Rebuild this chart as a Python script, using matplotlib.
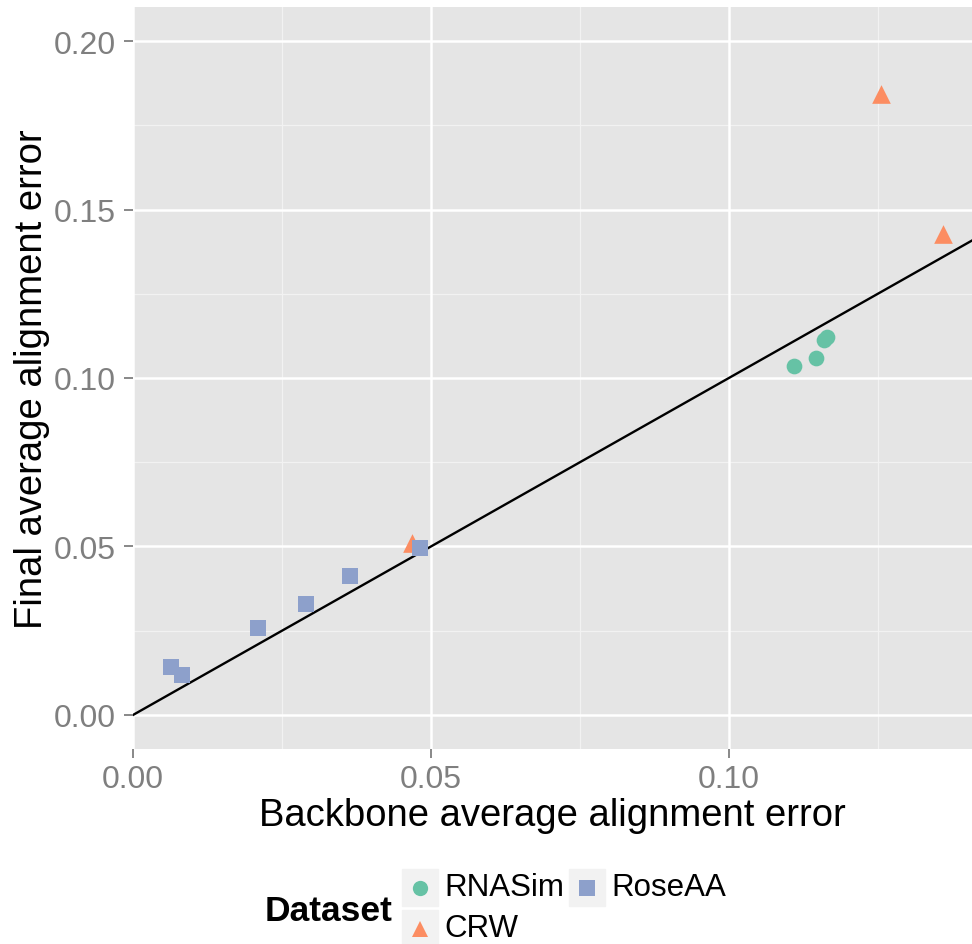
import matplotlib
matplotlib.use('Agg')
import matplotlib.pyplot as plt
from matplotlib.patches import Rectangle

plt.rcParams['font.family'] = ['Liberation Sans', 'DejaVu Sans']

# data
rnasim_x = [0.1110, 0.1146, 0.1160, 0.1164]
rnasim_y = [0.1035, 0.1058, 0.1114, 0.1122]
crw_x = [0.0468, 0.1255, 0.1360]
crw_y = [0.0511, 0.1843, 0.1427]
roseaa_x = [0.0063, 0.0083, 0.0209, 0.0290, 0.0364, 0.0482]
roseaa_y = [0.0143, 0.0120, 0.0258, 0.0329, 0.0412, 0.0496]

x_ticks = [0.00, 0.05, 0.10]
y_ticks = [0.00, 0.05, 0.10, 0.15, 0.20]

series = [
    ('RNASim', rnasim_x, rnasim_y, '#66C2A5', 'o', 128),
    ('CRW', crw_x, crw_y, '#FC8D62', '^', 180),
    ('RoseAA', roseaa_x, roseaa_y, '#8DA0CB', 's', 130),
]

W, H = 972, 945
fig = plt.figure(figsize=(W / 100, H / 100), dpi=100)
ax = fig.add_axes([133 / W, 1 - 750 / H, (W - 133) / W, (750 - 8) / H])
ax.set_facecolor('#E5E5E5')
for s in ax.spines.values():
    s.set_visible(False)

ax.set_xlim(0, 0.1408)
ax.set_ylim(-0.0101, 0.2101)

# grid: minor then major
for v in [0.025, 0.075, 0.125]:
    ax.axvline(v, color='#F2F2F2', lw=0.9, zorder=0.5)
for v in [0.025, 0.075, 0.125, 0.175]:
    ax.axhline(v, color='#F2F2F2', lw=0.9, zorder=0.5)
for v in x_ticks:
    ax.axvline(v, color='white', lw=1.8, zorder=0.6)
for v in y_ticks:
    ax.axhline(v, color='white', lw=1.8, zorder=0.6)

ax.plot([0, 0.2], [0, 0.2], color='black', lw=1.7, zorder=2)

for name, xs, ys, col, mk, sz in series:
    ax.scatter(xs, ys, s=sz, c=col, marker=mk, linewidths=0, zorder=3)

ax.set_xticks(x_ticks)
ax.set_xticklabels([f'{v:.2f}' for v in x_ticks])
ax.set_yticks(y_ticks)
ax.set_yticklabels([f'{v:.2f}' for v in y_ticks])
ax.tick_params(axis='both', colors='#7F7F7F', labelcolor='#7F7F7F',
               labelsize=23, length=6.5, width=1.3, pad=6)
ax.tick_params(axis='x', pad=4)

fig.text(552 / W, 1 - 826 / H, 'Backbone average alignment error',
         fontsize=27.5, ha='center', va='baseline')
fig.text(32 / W, 1 - 379 / H, 'Final average alignment error',
         fontsize=27.5, ha='center', va='center', rotation=90)

# legend drawn by hand, ggplot style
fig.text(265 / W, 1 - 912 / H, 'Dataset', fontsize=25.5, fontweight='bold',
         ha='left', va='center')
key_pos = [(402, 870), (402, 911), (569, 870)]
for (name, xs, ys, col, mk, sz), (kx, ky) in zip(series, key_pos):
    fig.patches.append(Rectangle((kx / W, 1 - (ky + 37) / H), 36 / W, 37 / H,
                                 transform=fig.transFigure, color='#F2F2F2'))
    fig.add_artist(plt.Line2D([(kx + 18) / W], [1 - (ky + 18.5) / H],
                              marker=mk, color=col, markersize=11,
                              markeredgewidth=0, linestyle='none',
                              transform=fig.transFigure))
    fig.text((kx + 42) / W, 1 - (ky + 18.5) / H, name, fontsize=22.5,
             ha='left', va='center')

fig.savefig('out.png', dpi=100, facecolor='white')
